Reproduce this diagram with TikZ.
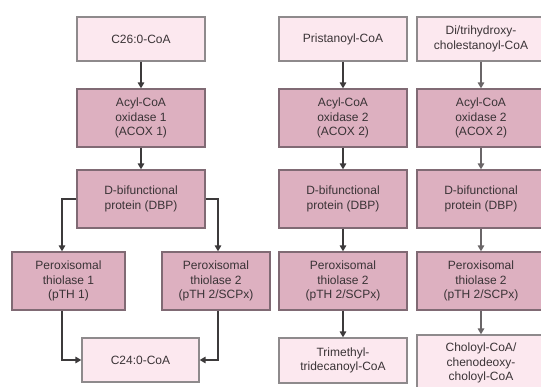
\documentclass[tikz,border=0pt]{standalone}
\usepackage{fontspec}
\setmainfont{Liberation Sans}
\usetikzlibrary{arrows.meta}
\definecolor{lightbox}{HTML}{FCE8EF}
\definecolor{darkbox}{HTML}{DDB0C0}
\definecolor{lightedge}{HTML}{8E8A8C}
\definecolor{darkedge}{HTML}{806A74}
\definecolor{txt}{HTML}{3A3336}
\definecolor{wire}{HTML}{3C3A3B}
\definecolor{wiregray}{HTML}{6A6668}
\tikzset{
  box/.style={rectangle, inner sep=0pt, align=center, text=txt,
    font=\fontsize{12}{14.6}\selectfont, line width=1.3pt},
  substrate/.style={box, fill=lightbox, draw=lightedge},
  enzyme/.style={box, fill=darkbox, draw=darkedge},
  arr/.style={draw=wire, line width=1.6pt,
    -{Triangle[length=6pt,width=6.5pt]}},
  arrg/.style={arr, draw=wiregray}
}
\begin{document}
\begin{tikzpicture}[x=1pt,y=-1pt]
\useasboundingbox (0,0) rectangle (541,387);
\clip (0,0) rectangle (541,387);
\fill[white] (0,0) rectangle (541,387);

% straight-chain branch
\node[substrate, minimum width=128pt, minimum height=44pt] (c26) at (141,39) {C26:0-CoA};
\node[enzyme, minimum width=128pt, minimum height=58pt] (acox1) at (141,118) {Acyl-CoA\\oxidase 1\\(ACOX 1)};
\node[enzyme, minimum width=128pt, minimum height=58pt] (dbp1) at (141,199) {D-bifunctional\\protein (DBP)};
\node[enzyme, minimum width=113pt, minimum height=58pt] (th1) at (68.5,281) {Peroxisomal\\thiolase 1\\(pTH 1)};
\node[enzyme, minimum width=108pt, minimum height=58pt] (th2a) at (216,281) {Peroxisomal\\thiolase 2\\(pTH 2/SCPx)};
\node[substrate, minimum width=117pt, minimum height=44pt] (c24) at (140.5,360) {C24:0-CoA};

% branched-chain branch
\node[substrate, minimum width=128pt, minimum height=44pt] (pri) at (343,39) {Pristanoyl-CoA};
\node[enzyme, minimum width=128pt, minimum height=58pt] (acox2a) at (343,118) {Acyl-CoA\\oxidase 2\\(ACOX 2)};
\node[enzyme, minimum width=128pt, minimum height=58pt] (dbp2) at (343,199) {D-bifunctional\\protein (DBP)};
\node[enzyme, minimum width=128pt, minimum height=58pt] (th2b) at (343,281) {Peroxisomal\\thiolase 2\\(pTH 2/SCPx)};
\node[substrate, minimum width=128pt, minimum height=45pt] (tmt) at (343,360.5) {Trimethyl-\\tridecanoyl-CoA};

% bile acid intermediates
\node[substrate, minimum width=128pt, minimum height=44pt] (dth) at (481,39) {Di/trihydroxy-\\cholestanoyl-CoA};
\node[enzyme, minimum width=128pt, minimum height=58pt] (acox2b) at (481,118) {Acyl-CoA\\oxidase 2\\(ACOX 2)};
\node[enzyme, minimum width=128pt, minimum height=58pt] (dbp3) at (481,199) {D-bifunctional\\protein (DBP)};
\node[enzyme, minimum width=128pt, minimum height=58pt] (th2c) at (481,281) {Peroxisomal\\thiolase 2\\(pTH 2/SCPx)};
\node[substrate, minimum width=128pt, minimum height=56pt] (cho) at (481,363) {Choloyl-CoA/\\chenodeoxy-\\choloyl-CoA};

% rails of the split pathway
\coordinate (railL) at (62,0);
\coordinate (railR) at (218,0);

% connectors
\draw[arr] (c26) -- (acox1);
\draw[arr] (acox1) -- (dbp1);
\draw[arr] (dbp1.west) -- (dbp1.west -| railL) -- (th1.north -| railL);
\draw[arr] (dbp1.east) -- (dbp1.east -| railR) -- (th2a.north -| railR);
\draw[arr] (th1.south -| railL) |- (c24.west);
\draw[arr] (th2a.south -| railR) |- (c24.east);

\draw[arr] (pri) -- (acox2a);
\draw[arr] (acox2a) -- (dbp2);
\draw[arr] (dbp2) -- (th2b);
\draw[arr] (th2b) -- (tmt);

\draw[arrg] (dth) -- (acox2b);
\draw[arrg] (acox2b) -- (dbp3);
\draw[arrg] (dbp3) -- (th2c);
\draw[arrg] (th2c) -- (cho);
\end{tikzpicture}
\end{document}
